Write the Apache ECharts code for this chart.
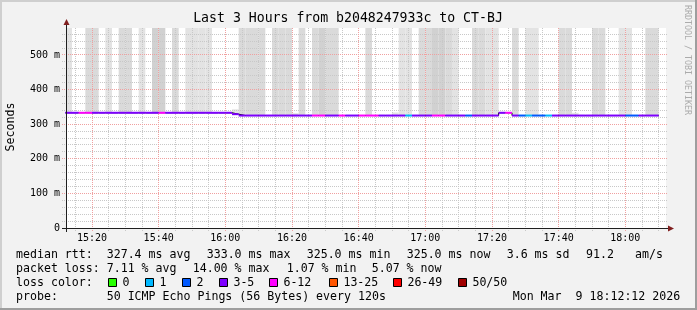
<!DOCTYPE html>
<html><head><meta charset="utf-8">
<script src="https://cdn.jsdelivr.net/npm/echarts@6/dist/echarts.min.js"></script>
<style>html,body{margin:0;padding:0;background:#f2f2f2}#c{width:697px;height:310px}</style>
</head><body><div id="c"></div>
<script>
// ---------------- data ----------------
const titleText = 'Last 3 Hours from b2048247933c to CT-BJ';
const yAxisName = 'Seconds';
const watermark = 'RRDTOOL / TOBI OETIKER';
const startTime = '15:12:12';
const endTime = '18:12:12';
const firstStep = '15:12';
const stepMinutes = 2;
const xTickLabels = ['15:20','15:40','16:00','16:20','16:40','17:00','17:20','17:40','18:00'];
const xMinorMinutes = 5;
const yTicks = [0, 100, 200, 300, 400, 500];
const yMinorStep = 20;
const yMax = 578;
// median rtt (ms) per 120 s step
const median = [
  333,333,333,333,333,333,333,333,333,333,
  333,333,333,333,333,333,333,333,333,333,
  333,333,333,333,333,329,325,325,325,325,
  325,325,325,325,325,325,325,325,325,325,
  325,325,325,325,325,325,325,325,325,325,
  325,325,325,325,325,325,325,325,325,325,
  325,325,325,325,325,333,333,325,325,325,
  325,325,325,325,325,325,325,325,325,325,
  325,325,325,325,325,325,325,325,325
];
// loss category index per step (into lossLabels)
const lossIdx = [
  3,3,4,4,3,3,3,3,3,3,
  3,3,3,3,4,3,3,3,3,3,
  3,3,3,3,3,3,3,3,3,3,
  3,3,3,3,3,3,3,4,4,3,
  3,4,3,3,4,4,4,3,3,3,
  3,1,3,3,3,4,4,3,3,3,
  2,3,3,3,3,3,4,3,2,1,
  2,2,1,3,3,3,3,3,3,3,
  3,3,3,3,2,2,3,3,3
];
// smoke: top of the ping spread (ms, 0 = none) and its shade
const smokeTop = [
  600,0,0,600,600,0,600,0,600,600,
  0,600,0,600,600,0,600,0,600,600,
  600,600,0,0,0,343,600,600,600,600,
  0,600,600,600,331,600,0,600,600,600,
  600,0,0,0,0,600,0,0,0,334,
  600,600,0,600,600,600,600,600,600,0,
  0,600,600,600,600,0,0,600,0,600,
  600,0,0,0,600,600,333,0,0,600,
  600,0,0,600,600,0,0,600,600
];
const smokeShade = [
  1,0,0,2,2,0,1,0,2,2,
  0,1,0,3,3,0,2,0,1,1,
  1,1,0,0,0,1,2,2,2,2,
  0,2,2,2,3,2,0,2,3,2,
  2,0,0,0,0,2,0,0,0,1,
  1,1,0,2,2,3,3,2,1,0,
  0,2,2,1,1,0,0,2,0,1,
  1,0,0,0,2,2,1,0,0,2,
  2,0,0,1,1,0,0,2,2
];
const lossLabels = ['0','1','2','3-5','6-12','13-25','26-49','50/50'];
const lossColors = ['#26ff00','#00b8ff','#0059ff','#7e00ff','#ff00ff','#ff5500','#ff0000','#a10000'];
const rttStats = ['327.4 ms avg','333.0 ms max','325.0 ms min','325.0 ms now','3.6 ms sd','91.2','am/s'];
const lossStats = ['7.11 % avg','14.00 % max','1.07 % min','5.07 % now'];
const probeText = '50 ICMP Echo Pings (56 Bytes) every 120s';
const dateText = 'Mon Mar  9 18:12:12 2026';

// ---------------- layout / style ----------------
const MONO = '"DejaVu Sans Mono", monospace';
const shadeColors = ['rgba(0,0,0,0)', '#e3e3e3', '#dadada', '#d1d1d1'];
const gridColors = ['#c8c8c8', '#f0a0a0'];
const rowY = [254.5, 268.5, 282.5, 296.5];
const rttX = [106.7, 206.7, 306.7, 406.7, 506.7, 586, 635];
const lossX = [106.7, 192.7, 286.7, 371.7];
const boxX = [108, 145, 182, 219, 269, 329, 393, 458];

const toMin = s => { const p = s.split(':').map(Number); return p[0]*60 + p[1] + (p[2]||0)/60; };
const fmt = v => { const h = Math.floor(v/60 + 1e-9); const m = Math.round(v - h*60); return String(h).padStart(2,'0') + ':' + String(m).padStart(2,'0'); };
const xMin = toMin(startTime), xMax = toMin(endTime), s0 = toMin(firstStep);
const majorX = xTickLabels.map(toMin);

// grid lines (kind 0 = minor, 1 = major)
const gridV = [];
for (let t = Math.ceil(xMin/xMinorMinutes)*xMinorMinutes; t < xMax; t += xMinorMinutes) gridV.push([t, majorX.indexOf(t) >= 0 ? 1 : 0]);
const gridH = [];
for (let v = yMinorStep; v < yMax; v += yMinorStep) gridH.push([v, yTicks.indexOf(v) >= 0 ? 1 : 0]);

const smokeData = [], segData = [], stepLine = [];
median.forEach((m, k) => {
  const a = s0 + k*stepMinutes, b = a + stepMinutes;
  if (smokeTop[k]) smokeData.push([a, b, m, smokeTop[k], smokeShade[k]]);
  segData.push([a, b, m, lossIdx[k]]);
  stepLine.push([a, m]);
  if (k === median.length - 1) stepLine.push([b, m]);
});

const chart = echarts.init(document.getElementById('c'), null, {renderer: 'canvas'});

const graphics = [
  {type:'rect', shape:{x:0,y:0,width:697,height:2}, style:{fill:'#cfcfcf'}, silent:true},
  {type:'rect', shape:{x:0,y:0,width:2,height:310}, style:{fill:'#cfcfcf'}, silent:true},
  {type:'rect', shape:{x:0,y:308,width:697,height:2}, style:{fill:'#9e9e9e'}, silent:true},
  {type:'rect', shape:{x:695,y:0,width:2,height:310}, style:{fill:'#9e9e9e'}, silent:true},
  // axis lines + arrows
  {type:'rect', shape:{x:66,y:24,width:1,height:208}, style:{fill:'#1f1f1f'}, z:20},
  {type:'rect', shape:{x:62,y:228,width:608,height:1}, style:{fill:'#1f1f1f'}, z:20},
  {type:'polygon', shape:{points:[[66.5,19],[63.5,25],[69.5,25]]}, style:{fill:'#801f1f'}, z:21},
  {type:'polygon', shape:{points:[[674,228.5],[668,225.5],[668,231.5]]}, style:{fill:'#801f1f'}, z:21},
  {type:'text', x:348, y:19, style:{text:titleText, font:'13.2px ' + MONO, fill:'#000', align:'center', verticalAlign:'middle', textAlign:'center', textVerticalAlign:'middle'}},
  {type:'text', x:11, y:127, rotation:Math.PI/2, style:{text:yAxisName, font:'11.6px ' + MONO, fill:'#000', align:'center', verticalAlign:'middle', textAlign:'center', textVerticalAlign:'middle'}},
  {type:'text', x:687.5, y:60, rotation:-Math.PI/2, style:{text:watermark, font:'8.3px ' + MONO, fill:'#ababab', align:'center', verticalAlign:'middle', textAlign:'center', textVerticalAlign:'middle'}}
];
const T = (txt, x, y) => ({type:'text', x:x, y:y, style:{text:txt, font:'11.6px ' + MONO, fill:'#000', align:'left', verticalAlign:'middle', textAlign:'left', textVerticalAlign:'middle'}});
graphics.push(T('median rtt:', 16, rowY[0]));
rttStats.forEach((s, i) => graphics.push(T(s, rttX[i], rowY[0])));
graphics.push(T('packet loss:', 16, rowY[1]));
lossStats.forEach((s, i) => graphics.push(T(s, lossX[i], rowY[1])));
graphics.push(T('loss color:', 16, rowY[2]));
lossLabels.forEach((s, i) => {
  graphics.push({type:'rect', shape:{x:boxX[i]+0.5, y:rowY[2]-4, width:8, height:8}, style:{fill:lossColors[i], stroke:'#000', lineWidth:1}});
  graphics.push(T(s, boxX[i] + 14.4, rowY[2]));
});
graphics.push(T('probe:', 16, rowY[3]));
graphics.push(T(probeText, 106.7, rowY[3]));
graphics.push(T(dateText, 512.7, rowY[3]));

const axisFont = {fontFamily: MONO, fontSize: 10, color: '#000'};
chart.setOption({
  animation: false,
  backgroundColor: '#f2f2f2',
  grid: {left: 66, top: 28, width: 600, height: 200, show: true, backgroundColor: '#ffffff', borderWidth: 0, containLabel: false, outerBoundsMode: 'none'},
  graphic: graphics,
  xAxis: {type:'value', min:xMin, max:xMax, position:'bottom',
     axisLine:{show:false}, axisTick:{show:false}, splitLine:{show:false},
     axisLabel:Object.assign({customValues:majorX, margin:5, formatter: v => fmt(v)}, axisFont)},
  yAxis: {type:'value', min:0, max:yMax, position:'left',
     axisLine:{show:false}, axisTick:{show:false}, splitLine:{show:false},
     axisLabel:Object.assign({customValues:yTicks, margin:6, formatter: v => v === 0 ? '0' : v + ' m'}, axisFont)},
  series: [
    {type:'custom', name:'smoke', z:1, data:smokeData, encode:{x:[0,1], y:[2]},
     renderItem: (params, api) => {
       const p0 = api.coord([api.value(0), api.value(3)]);
       const p1 = api.coord([api.value(1), api.value(2)]);
       const r = echarts.graphic.clipRectByRect({x:p0[0], y:p0[1], width:p1[0]-p0[0], height:p1[1]-p0[1]}, params.coordSys);
       return r ? {type:'rect', shape:r, style:{fill:shadeColors[api.value(4)]}} : null;
     }},
    {type:'custom', name:'gridV', z:3, data:gridV, encode:{x:[0]}, silent:true,
     renderItem: (params, api) => {
       const kind = api.value(1);
       const pb = api.coord([api.value(0), 0]);
       const pt = api.coord([api.value(0), yMax]);
       const x = Math.floor(pb[0]) + 0.5;
       return {type:'line', z2: kind, shape:{x1:x, y1:pb[1]+3, x2:x, y2:pt[1]-1},
               style:{stroke:gridColors[kind], lineWidth:1, lineDash:[1,1]}};
     }},
    {type:'custom', name:'gridH', z:3, data:gridH.map(d => [xMin, d[0], d[1]]), encode:{y:[1]}, silent:true,
     renderItem: (params, api) => {
       const kind = api.value(2);
       const pl = api.coord([xMin, api.value(1)]);
       const pr = api.coord([xMax, api.value(1)]);
       const y = Math.floor(pl[1]) + 0.5;
       return {type:'line', z2: kind, shape:{x1:pl[0]-4, y1:y, x2:pr[0]+1, y2:y},
               style:{stroke:gridColors[kind], lineWidth:1, lineDash:[1,1]}};
     }},
    {type:'line', name:'median-edge', z:5, step:'end', data:stepLine, symbol:'none', lineStyle:{color:'#000', width:1}, silent:true},
    {type:'custom', name:'median', z:6, data:segData, encode:{x:[0,1], y:[2]},
     renderItem: (params, api) => {
       const p0 = api.coord([api.value(0), api.value(2)]);
       const p1 = api.coord([api.value(1), api.value(2)]);
       return {type:'rect', shape:{x:p0[0], y:p0[1]-1, width:p1[0]-p0[0], height:2}, style:{fill:lossColors[api.value(3)]}};
     }}
  ]
});
</script></body></html>
